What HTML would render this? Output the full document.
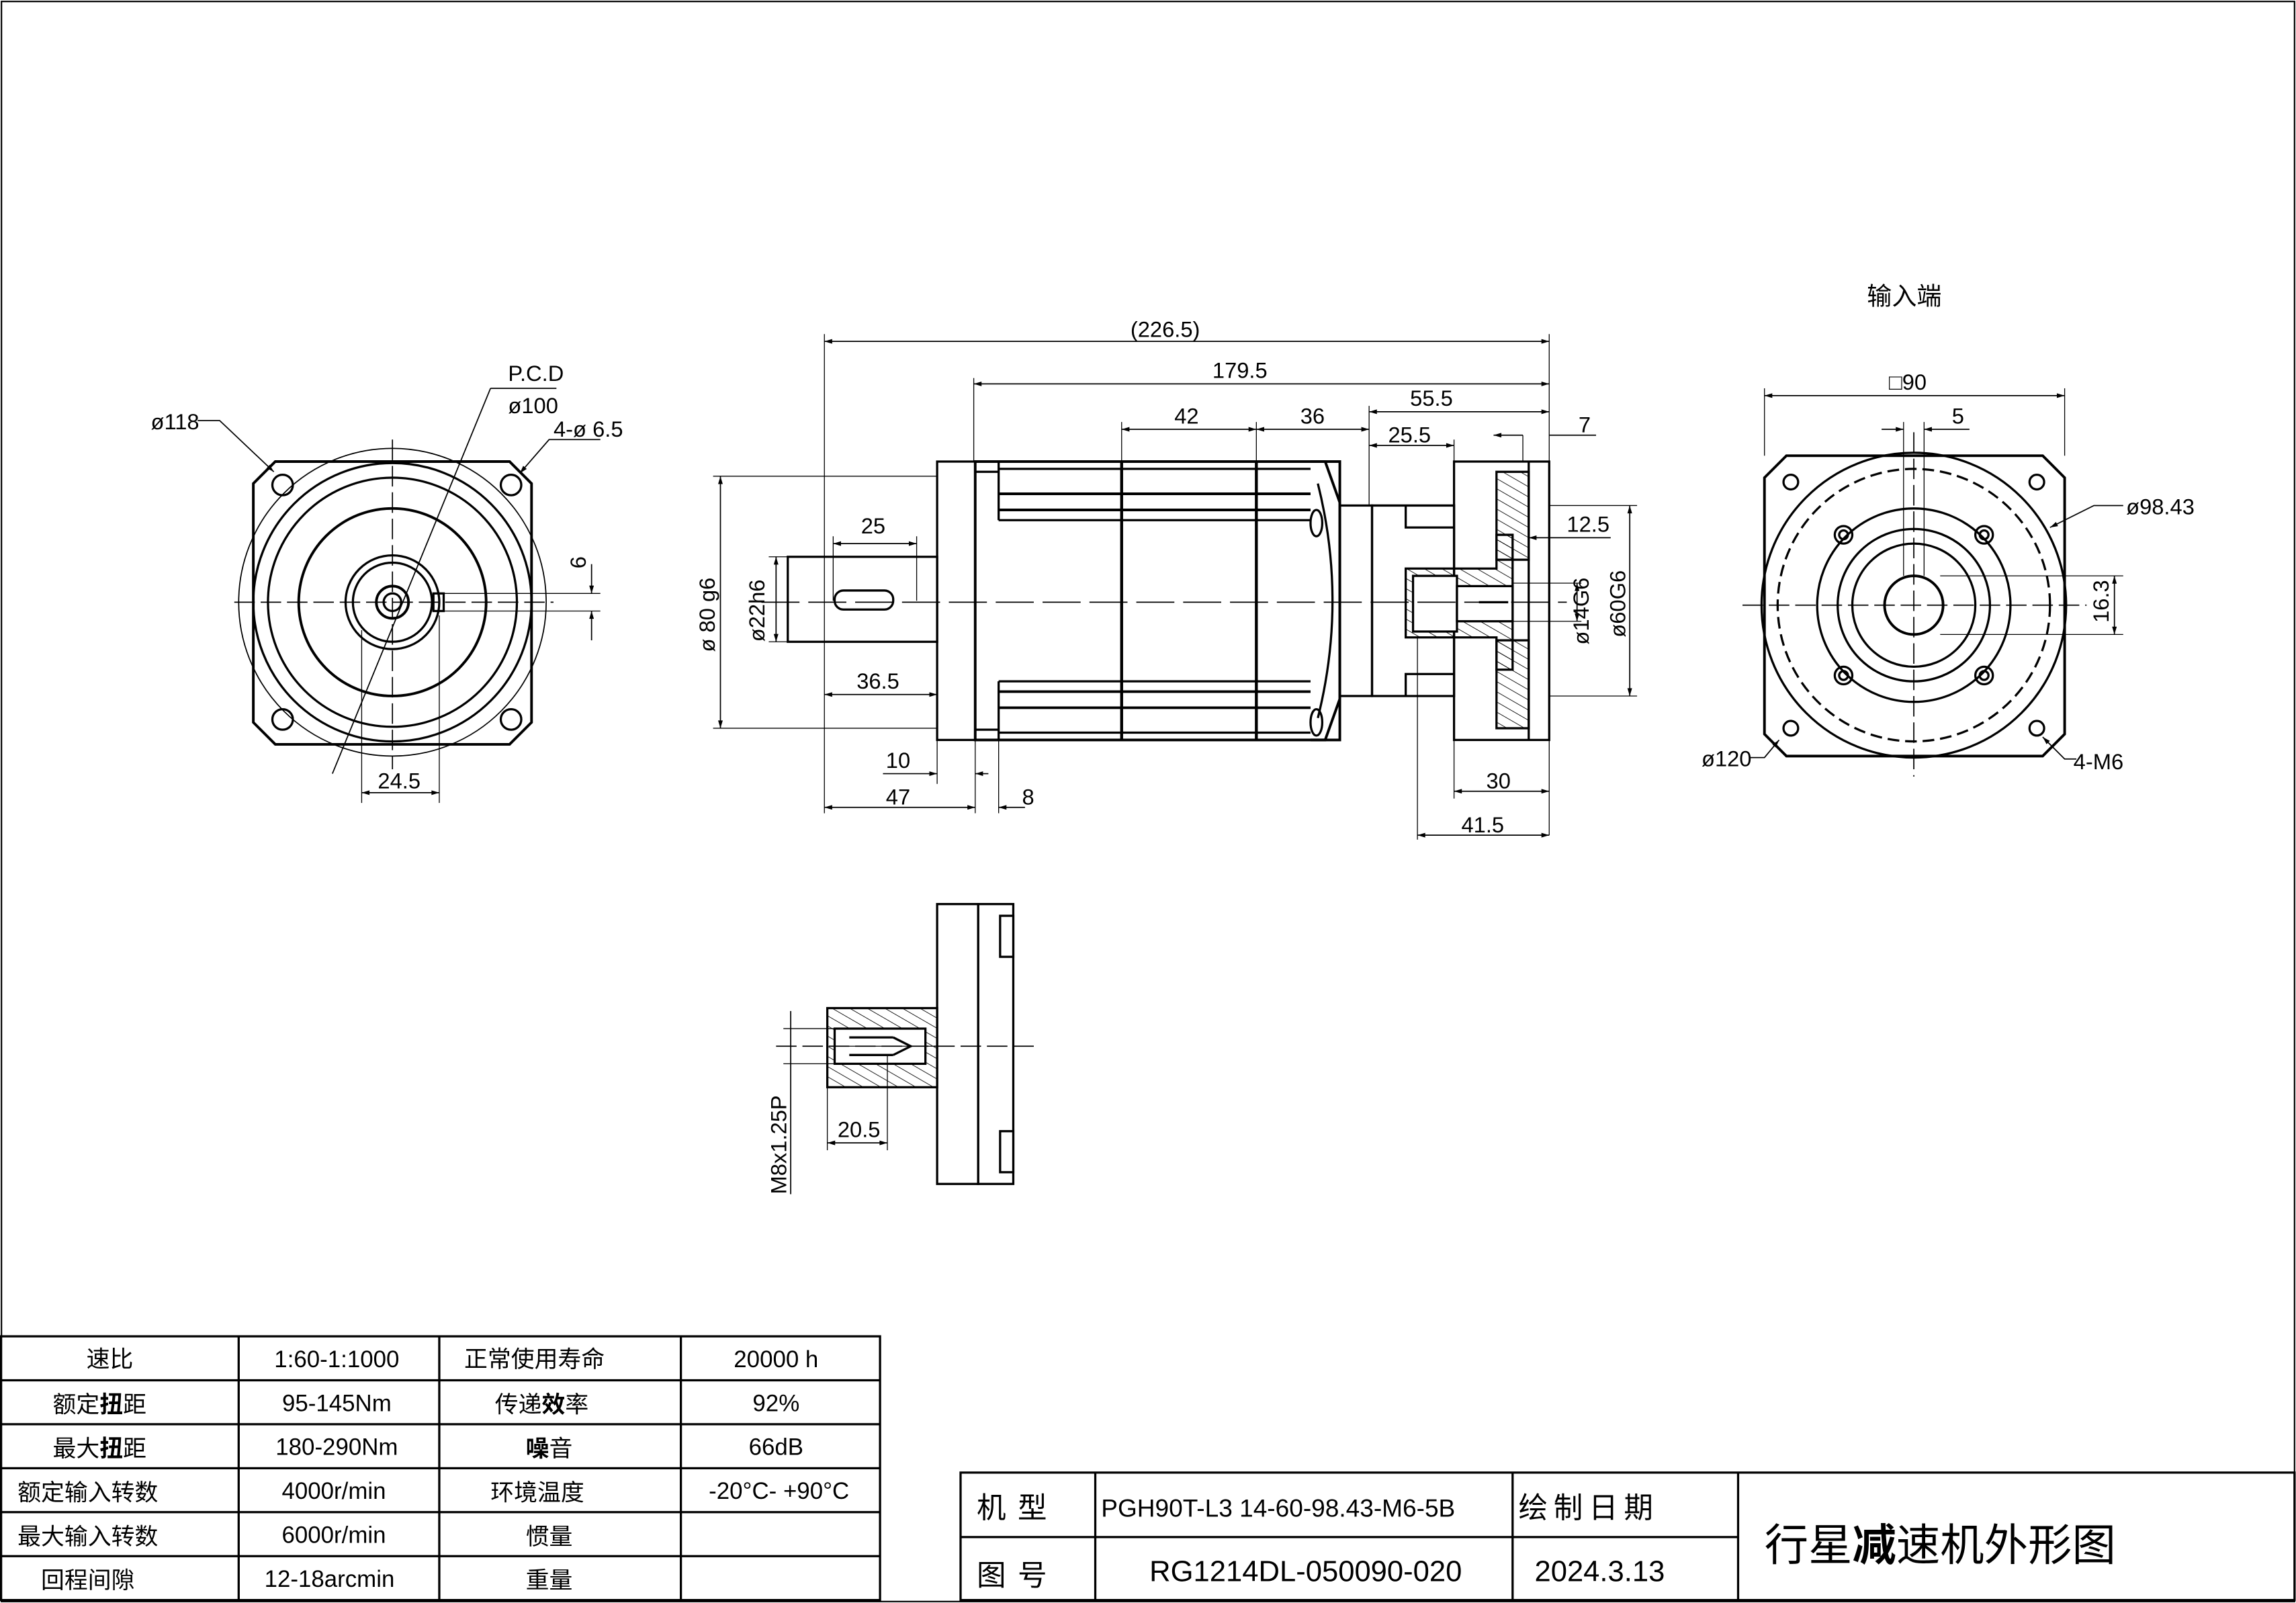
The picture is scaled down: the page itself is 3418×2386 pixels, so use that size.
<!DOCTYPE html>
<html><head><meta charset="utf-8"><style>
html,body{margin:0;padding:0;background:#fff;}
svg{display:block;}
text{font-family:"Liberation Sans","Noto Sans CJK SC",sans-serif;fill:#000;}
</style></head><body>
<svg width="3418" height="2386" viewBox="0 0 1568 1094" preserveAspectRatio="none" xmlns="http://www.w3.org/2000/svg">
<defs>
<marker id="a" viewBox="0 0 10 6" refX="10" refY="3" markerWidth="8" markerHeight="4" orient="auto-start-reverse"><path d="M0,0L10,3L0,6z" fill="#000"/></marker>
<pattern id="h" width="6" height="6" patternUnits="userSpaceOnUse" patternTransform="rotate(-60)"><line x1="0" y1="0" x2="0" y2="6" stroke="#000" stroke-width="0.8"/></pattern>
</defs>
<rect x="0" y="0" width="1568" height="1094" fill="#fff"/>
<rect x="1" y="1" width="1566" height="1092" fill="none" stroke="#000" stroke-width="1"/>
<g fill="none" stroke="#000" stroke-width="1.5">
<!-- LEFT VIEW -->
<path d="M188,315 L348,315 L363,330 L363,493 L348,508 L188,508 L173,493 L173,330 Z" stroke-width="1.8"/>
<circle cx="268" cy="411" r="105" stroke-width="0.8"/>
<circle cx="268" cy="411" r="95"/>
<circle cx="268" cy="411" r="85"/>
<circle cx="268" cy="411" r="64" stroke-width="1.8"/>
<circle cx="268" cy="411" r="32"/>
<circle cx="268" cy="411" r="27"/>
<circle cx="268" cy="411" r="11" stroke-width="1.8"/>
<circle cx="268" cy="411" r="6"/>
<rect x="296" y="405" width="7" height="12"/>
<circle cx="193" cy="331" r="7"/><circle cx="349" cy="331" r="7"/>
<circle cx="193" cy="491" r="7"/><circle cx="349" cy="491" r="7"/>
<line x1="160" y1="411" x2="378" y2="411" stroke-dasharray="14,4" stroke-width="0.8"/>
<line x1="268" y1="300" x2="268" y2="525" stroke-dasharray="14,4" stroke-width="0.8"/>
<line x1="227" y1="528" x2="335" y2="265" stroke-width="0.8"/>
<path d="M335,265 L380,265" stroke-width="0.8"/>
<path d="M135,287 L150,287 L187,322" stroke-width="0.8" marker-end="url(#a)"/>
<path d="M410,300 L375,300 L355,323" stroke-width="0.8" marker-end="url(#a)"/>
<line x1="300" y1="405" x2="410" y2="405" stroke-width="0.6"/>
<line x1="300" y1="417" x2="410" y2="417" stroke-width="0.6"/>
<line x1="404" y1="385" x2="404" y2="405" stroke-width="0.8" marker-end="url(#a)"/>
<line x1="404" y1="437" x2="404" y2="417" stroke-width="0.8" marker-end="url(#a)"/>
<line x1="247" y1="430" x2="247" y2="548" stroke-width="0.6"/>
<line x1="300" y1="420" x2="300" y2="548" stroke-width="0.6"/>
<line x1="247" y1="541" x2="300" y2="541" stroke-width="0.8" marker-start="url(#a)" marker-end="url(#a)"/>

<!-- MIDDLE VIEW -->
<rect x="538" y="380" width="102" height="58"/>
<rect x="570" y="403" width="40" height="13" rx="6"/>
<rect x="640" y="315" width="26" height="190"/>
<rect x="666" y="315" width="249" height="190" stroke-width="1.8"/>
<line x1="666" y1="322" x2="682" y2="322"/><line x1="666" y1="498" x2="682" y2="498"/>
<line x1="682" y1="315" x2="682" y2="355"/><line x1="682" y1="465" x2="682" y2="505"/>
<line x1="682" y1="320" x2="895" y2="320"/><line x1="682" y1="337" x2="895" y2="337" stroke-width="1.8"/>
<line x1="682" y1="348" x2="895" y2="348" stroke-width="1.8"/><line x1="682" y1="355" x2="895" y2="355"/>
<line x1="682" y1="465" x2="895" y2="465"/><line x1="682" y1="472" x2="895" y2="472" stroke-width="1.8"/>
<line x1="682" y1="483" x2="895" y2="483" stroke-width="1.8"/><line x1="682" y1="500" x2="895" y2="500"/>
<line x1="766" y1="315" x2="766" y2="505" stroke-width="2"/>
<line x1="858" y1="315" x2="858" y2="505" stroke-width="2"/>
<path d="M895,315 L905,315 L915,343 L915,477 L905,505 L895,505" stroke-width="1.8"/>
<path d="M900,330 Q920,410 900,490"/>
<ellipse cx="899" cy="357" rx="4" ry="9"/><ellipse cx="899" cy="493" rx="4" ry="9"/>
<rect x="915" y="345" width="22" height="130"/>
<path d="M937,345 L993,345 L993,475 L937,475 Z"/>
<path d="M960,345 L960,360 L993,360 M960,475 L960,460 L993,460"/>
<rect x="993" y="315" width="65" height="190"/>
<rect x="1022" y="322" width="22" height="60" fill="url(#h)"/>
<rect x="1022" y="437" width="22" height="60" fill="url(#h)"/>
<path d="M960,388 L1022,388 L1022,365 L1033,365 L1033,457 L1022,457 L1022,435 L960,435 Z" fill="url(#h)"/>
<rect x="965" y="393" width="30" height="38" fill="#fff"/>
<rect x="995" y="400" width="38" height="24" fill="#fff"/>
<line x1="1044" y1="315" x2="1044" y2="505"/>
<line x1="1010" y1="411" x2="1030" y2="411"/>
<line x1="520" y1="411" x2="1070" y2="411" stroke-dasharray="26,6" stroke-width="0.8"/>
<!-- dims middle -->
<line x1="563" y1="233" x2="1058" y2="233" stroke-width="0.8" marker-start="url(#a)" marker-end="url(#a)"/>
<line x1="563" y1="228" x2="563" y2="555" stroke-width="0.6"/>
<line x1="1058" y1="228" x2="1058" y2="570" stroke-width="0.6"/>
<line x1="665" y1="262" x2="1058" y2="262" stroke-width="0.8" marker-start="url(#a)" marker-end="url(#a)"/>
<line x1="665" y1="258" x2="665" y2="315" stroke-width="0.6"/>
<line x1="766" y1="293" x2="858" y2="293" stroke-width="0.8" marker-start="url(#a)" marker-end="url(#a)"/>
<line x1="858" y1="293" x2="935" y2="293" stroke-width="0.8" marker-start="url(#a)" marker-end="url(#a)"/>
<line x1="766" y1="288" x2="766" y2="315" stroke-width="0.6"/><line x1="858" y1="288" x2="858" y2="315" stroke-width="0.6"/>
<line x1="935" y1="281" x2="1058" y2="281" stroke-width="0.8" marker-start="url(#a)" marker-end="url(#a)"/>
<line x1="935" y1="277" x2="935" y2="345" stroke-width="0.6"/>
<line x1="935" y1="304" x2="993" y2="304" stroke-width="0.8" marker-start="url(#a)" marker-end="url(#a)"/>
<line x1="993" y1="300" x2="993" y2="315" stroke-width="0.6"/>
<line x1="1040" y1="297" x2="1020" y2="297" stroke-width="0.8" marker-end="url(#a)"/>
<line x1="1058" y1="297" x2="1090" y2="297" stroke-width="0.8"/>
<line x1="1040" y1="297" x2="1040" y2="315" stroke-width="0.6"/>
<line x1="1044" y1="367" x2="1100" y2="367" stroke-width="0.8" marker-start="url(#a)"/>
<line x1="1033" y1="398" x2="1080" y2="398" stroke-width="0.6"/>
<line x1="1033" y1="424" x2="1080" y2="424" stroke-width="0.6"/>
<line x1="1077" y1="398" x2="1077" y2="424" stroke-width="0.8" marker-start="url(#a)" marker-end="url(#a)"/>
<line x1="1058" y1="345" x2="1118" y2="345" stroke-width="0.6"/>
<line x1="1058" y1="475" x2="1118" y2="475" stroke-width="0.6"/>
<line x1="1113" y1="345" x2="1113" y2="475" stroke-width="0.8" marker-start="url(#a)" marker-end="url(#a)"/>
<line x1="487" y1="325" x2="640" y2="325" stroke-width="0.6"/>
<line x1="487" y1="497" x2="640" y2="497" stroke-width="0.6"/>
<line x1="492" y1="325" x2="492" y2="497" stroke-width="0.8" marker-start="url(#a)" marker-end="url(#a)"/>
<line x1="525" y1="380" x2="538" y2="380" stroke-width="0.6"/><line x1="525" y1="438" x2="538" y2="438" stroke-width="0.6"/>
<line x1="530" y1="380" x2="530" y2="438" stroke-width="0.8" marker-start="url(#a)" marker-end="url(#a)"/>
<line x1="569" y1="366" x2="569" y2="410" stroke-width="0.6"/><line x1="626" y1="366" x2="626" y2="410" stroke-width="0.6"/>
<line x1="569" y1="371" x2="626" y2="371" stroke-width="0.8" marker-start="url(#a)" marker-end="url(#a)"/>
<line x1="563" y1="474" x2="640" y2="474" stroke-width="0.8" marker-start="url(#a)" marker-end="url(#a)"/>
<line x1="640" y1="505" x2="640" y2="535" stroke-width="0.6"/><line x1="666" y1="505" x2="666" y2="555" stroke-width="0.6"/>
<line x1="682" y1="505" x2="682" y2="555" stroke-width="0.6"/>
<line x1="603" y1="528" x2="640" y2="528" stroke-width="0.8" marker-end="url(#a)"/>
<line x1="666" y1="528" x2="675" y2="528" stroke-width="0.8" marker-start="url(#a)"/>
<line x1="563" y1="551" x2="666" y2="551" stroke-width="0.8" marker-start="url(#a)" marker-end="url(#a)"/>
<line x1="682" y1="551" x2="700" y2="551" stroke-width="0.8" marker-start="url(#a)"/>
<line x1="993" y1="505" x2="993" y2="545" stroke-width="0.6"/>
<line x1="993" y1="540" x2="1058" y2="540" stroke-width="0.8" marker-start="url(#a)" marker-end="url(#a)"/>
<line x1="968" y1="435" x2="968" y2="573" stroke-width="0.6"/>
<line x1="968" y1="570" x2="1058" y2="570" stroke-width="0.8" marker-start="url(#a)" marker-end="url(#a)"/>

<!-- RIGHT VIEW -->
<path d="M1220,311 L1395,311 L1410,326 L1410,501 L1395,516 L1220,516 L1205,501 L1205,326 Z" stroke-width="1.8"/>
<circle cx="1307" cy="413" r="104"/>
<circle cx="1307" cy="413" r="93" stroke-dasharray="8,4"/>
<circle cx="1307" cy="413" r="66"/>
<circle cx="1307" cy="413" r="52"/>
<circle cx="1307" cy="413" r="42"/>
<circle cx="1307" cy="413" r="20" stroke-width="1.8"/>
<circle cx="1259" cy="365" r="6"/><circle cx="1355" cy="365" r="6"/>
<circle cx="1259" cy="461" r="6"/><circle cx="1355" cy="461" r="6"/>
<circle cx="1259" cy="365" r="3"/><circle cx="1355" cy="365" r="3"/>
<circle cx="1259" cy="461" r="3"/><circle cx="1355" cy="461" r="3"/>
<circle cx="1223" cy="329" r="5"/><circle cx="1391" cy="329" r="5"/>
<circle cx="1223" cy="497" r="5"/><circle cx="1391" cy="497" r="5"/>
<line x1="1190" y1="413" x2="1425" y2="413" stroke-dasharray="14,4" stroke-width="0.8"/>
<line x1="1307" y1="295" x2="1307" y2="530" stroke-dasharray="14,4" stroke-width="0.8"/>
<line x1="1205" y1="265" x2="1205" y2="311" stroke-width="0.6"/><line x1="1410" y1="265" x2="1410" y2="311" stroke-width="0.6"/>
<line x1="1205" y1="270" x2="1410" y2="270" stroke-width="0.8" marker-start="url(#a)" marker-end="url(#a)"/>
<line x1="1300" y1="288" x2="1300" y2="393" stroke-width="0.6"/><line x1="1314" y1="288" x2="1314" y2="393" stroke-width="0.6"/>
<line x1="1285" y1="293" x2="1300" y2="293" stroke-width="0.8" marker-end="url(#a)"/>
<line x1="1314" y1="293" x2="1345" y2="293" stroke-width="0.8" marker-start="url(#a)"/>
<line x1="1325" y1="393" x2="1450" y2="393" stroke-width="0.6"/><line x1="1325" y1="433" x2="1450" y2="433" stroke-width="0.6"/>
<line x1="1444" y1="393" x2="1444" y2="433" stroke-width="0.8" marker-start="url(#a)" marker-end="url(#a)"/>
<path d="M1450,345 L1430,345 L1400,360" stroke-width="0.8" marker-end="url(#a)"/>
<path d="M1195,517 L1205,517 L1215,505" stroke-width="0.8" marker-end="url(#a)"/>
<path d="M1418,518 L1410,518 L1395,503" stroke-width="0.8" marker-end="url(#a)"/>

<!-- BOTTOM VIEW -->
<rect x="640" y="617" width="28" height="191"/>
<rect x="668" y="617" width="24" height="191"/>
<rect x="683" y="625" width="9" height="28" fill="#fff"/><rect x="683" y="772" width="9" height="28" fill="#fff"/>
<rect x="565" y="688" width="75" height="54" fill="url(#h)"/>
<rect x="570" y="702" width="62" height="24" fill="#fff"/>
<line x1="570" y1="714" x2="640" y2="714" stroke-width="0.6"/>
<line x1="580" y1="708" x2="610" y2="708"/><line x1="580" y1="720" x2="610" y2="720"/>
<path d="M610,708 L622,714 L610,720"/>
<line x1="530" y1="714" x2="710" y2="714" stroke-dasharray="14,4" stroke-width="0.8"/>
<line x1="535" y1="702" x2="570" y2="702" stroke-width="0.6"/><line x1="535" y1="726" x2="570" y2="726" stroke-width="0.6"/>
<line x1="540" y1="690" x2="540" y2="815" stroke-width="0.8"/>
<line x1="565" y1="742" x2="565" y2="785" stroke-width="0.6"/><line x1="606" y1="720" x2="606" y2="785" stroke-width="0.6"/>
<line x1="565" y1="780" x2="606" y2="780" stroke-width="0.8" marker-start="url(#a)" marker-end="url(#a)"/>

<!-- TABLE -->
<rect x="0" y="912" width="601" height="180"/>
<line x1="0" y1="942" x2="601" y2="942"/><line x1="0" y1="972" x2="601" y2="972"/>
<line x1="0" y1="1002" x2="601" y2="1002"/><line x1="0" y1="1032" x2="601" y2="1032"/>
<line x1="0" y1="1062" x2="601" y2="1062"/>
<line x1="163" y1="912" x2="163" y2="1092"/><line x1="300" y1="912" x2="300" y2="1092"/><line x1="465" y1="912" x2="465" y2="1092"/>
<rect x="656" y="1005" width="911" height="87"/>
<line x1="656" y1="1049" x2="1187" y2="1049"/>
<line x1="748" y1="1005" x2="748" y2="1092"/><line x1="1033" y1="1005" x2="1033" y2="1092"/><line x1="1187" y1="1005" x2="1187" y2="1092"/>
</g>

<g font-size="15">
<text x="347" y="260">P.C.D</text>
<text x="347" y="282">ø100</text>
<text x="378" y="298">4-ø 6.5</text>
<text x="103" y="293">ø118</text>
<text transform="translate(400,388) rotate(-90)">6</text>
<text x="258" y="538">24.5</text>
<text x="772" y="230">(226.5)</text>
<text x="828" y="258">179.5</text>
<text x="802" y="289">42</text>
<text x="888" y="289">36</text>
<text x="963" y="277">55.5</text>
<text x="948" y="302">25.5</text>
<text x="1078" y="295">7</text>
<text x="1070" y="363">12.5</text>
<text x="588" y="364">25</text>
<text x="585" y="470">36.5</text>
<text x="605" y="524">10</text>
<text x="605" y="549">47</text>
<text x="698" y="549">8</text>
<text x="1015" y="538">30</text>
<text x="998" y="568">41.5</text>
<text x="1290" y="266">□90</text>
<text x="1333" y="289">5</text>
<text x="1452" y="351">ø98.43</text>
<text x="1162" y="523">ø120</text>
<text x="1416" y="525">4-M6</text>
<text x="572" y="776">20.5</text>
<text x="1275" y="208" font-size="17">输入端</text>
<text transform="translate(488,445) rotate(-90)">ø 80 g6</text>
<text transform="translate(522,438) rotate(-90)">ø22h6</text>
<text transform="translate(1085,440) rotate(-90)">ø14G6</text>
<text transform="translate(1110,435) rotate(-90)">ø60G6</text>
<text transform="translate(1440,425) rotate(-90)">16.3</text>
<text transform="translate(537,815) rotate(-90)">M8x1.25P</text>
</g>
<g font-size="16" text-anchor="middle">
<text x="75" y="933">速比</text><text x="230" y="933">1:60-1:1000</text><text x="365" y="933">正常使用寿命</text><text x="530" y="933">20000 h</text>
<text x="68" y="964">额定<tspan font-weight="bold">扭</tspan>距</text><text x="230" y="963">95-145Nm</text><text x="370" y="964">传递<tspan font-weight="bold">效</tspan>率</text><text x="530" y="963">92%</text>
<text x="68" y="994">最大<tspan font-weight="bold">扭</tspan>距</text><text x="230" y="993">180-290Nm</text><text x="375" y="994"><tspan font-weight="bold">噪</tspan>音</text><text x="530" y="993">66dB</text>
<text x="60" y="1024">额定输入转数</text><text x="228" y="1023">4000r/min</text><text x="367" y="1024">环境温度</text><text x="532" y="1023">-20°C- +90°C</text>
<text x="60" y="1054">最大输入转数</text><text x="228" y="1053">6000r/min</text><text x="375" y="1054">惯量</text>
<text x="60" y="1084">回程间隙</text><text x="225" y="1083">12-18arcmin</text><text x="375" y="1084">重量</text>
</g>
<g font-size="20">
<text x="667" y="1036" letter-spacing="8">机型</text>
<text x="752" y="1035" font-family="Liberation Serif" font-size="17">PGH90T-L3 14-60-98.43-M6-5B</text>
<text x="1037" y="1036" letter-spacing="4">绘制日期</text>
<text x="667" y="1082" letter-spacing="8">图号</text>
<text x="785" y="1079">RG1214DL-050090-020</text>
<text x="1048" y="1079">2024.3.13</text>
<text x="1205" y="1065" font-size="30">行星<tspan font-weight="bold">减</tspan>速机外形图</text>
</g>
</svg>
</body></html>
